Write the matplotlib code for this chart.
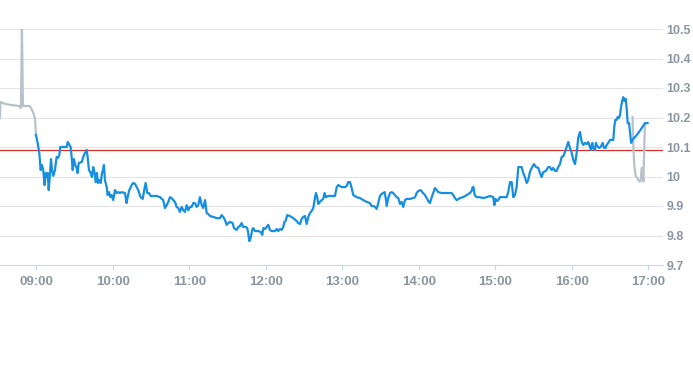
import matplotlib.pyplot as plt
from matplotlib.ticker import FixedLocator, FuncFormatter

# minutes after midnight, price
pre_t = [511.3, 511.8, 515.3, 520.8, 526.3, 527.8, 528.6, 529.4, 534.9, 537.3, 538.8, 539.6]
pre_v = [10.198, 10.253, 10.246, 10.242, 10.239, 10.232, 10.50, 10.239, 10.239, 10.218, 10.198, 10.141]

reg_t = [539.6, 540.9, 542.2, 543.3, 544.3, 545.3, 546.4, 547.2, 548.0, 548.8, 549.6, 550.4,
         551.4, 552.2, 553.2, 554.5, 555.8, 556.9, 557.9, 558.7, 563.7, 564.5, 565.5, 566.8,
         567.6, 568.4, 569.4, 570.4, 571.5, 572.3, 573.1, 575.5, 576.7, 578.0, 579.4, 580.2,
         581.2, 582.5, 583.5, 584.5, 585.6, 586.4, 587.4, 588.2, 589.3, 590.4, 591.4, 592.2,
         592.9, 593.7, 595.1, 595.8, 596.9, 597.9, 599.0, 600.2, 601.6, 602.9, 604.2, 605.5,
         606.8, 609.4, 610.7, 611.5, 612.8, 614.7, 615.9, 617.3, 618.6, 619.8, 621.7, 623.3,
         624.5, 625.6, 626.9, 628.2, 629.6, 634.3, 636.9, 639.4, 640.8, 642.1, 643.4, 644.7,
         646.0, 647.3, 648.6, 649.9, 651.2, 652.5, 653.9, 655.1, 656.5, 657.8, 659.1, 660.4,
         661.7, 663.0, 664.3, 665.6, 666.9, 668.2, 669.6, 670.8, 672.2, 673.5, 674.7, 676.1,
         678.7, 681.3, 683.9, 685.3, 686.5, 687.8, 689.2, 690.4, 691.8, 693.9, 694.9, 697.0,
         698.3, 699.6, 700.9, 702.2, 704.3, 705.3, 706.1, 706.9, 708.0, 709.2, 710.0, 711.4,
         713.9, 715.8, 717.1, 717.9, 719.2, 720.5, 721.8, 723.1, 724.5, 727.0, 728.4, 729.6,
         731.0, 732.3, 733.6, 734.4, 735.4, 736.7, 738.8, 741.4, 744.1, 745.3, 746.7, 748.0,
         749.2, 750.6, 751.9, 753.2, 754.5, 755.8, 757.1, 758.4, 759.2, 760.2, 761.0, 762.3,
         763.7, 764.9, 766.0, 767.0, 768.9, 774.1, 775.5, 776.7, 779.4, 782.0, 783.3, 784.5,
         785.9, 787.2, 788.5, 791.1, 793.7, 796.3, 798.9, 801.5, 802.8, 804.2, 805.5, 806.8,
         808.1, 809.4, 810.7, 812.0, 813.1, 813.9, 814.7, 815.9, 817.3, 818.6, 819.8, 821.2,
         822.5, 823.8, 825.1, 826.4, 827.7, 829.0, 830.4, 832.9, 835.5, 836.9, 838.2, 839.5,
         841.3, 842.6, 844.7, 846.0, 847.3, 848.6, 850.0, 851.2, 852.5, 853.9, 855.1, 857.8,
         865.6, 866.9, 868.2, 869.6, 872.2, 874.7, 877.4, 880.0, 881.3, 882.1, 882.8, 883.7,
         885.2, 887.6, 890.4, 893.1, 895.7, 898.3, 899.1, 900.1, 900.9, 902.2, 903.5, 908.8,
         910.0, 911.4, 912.7, 914.0, 915.3, 916.6, 917.9, 920.5, 921.8, 923.1, 924.5, 925.7,
         927.0, 928.4, 930.2, 931.8, 933.6, 934.9, 936.2, 937.5, 939.6, 941.4, 942.7, 944.1,
         945.3, 946.7, 948.0, 949.2, 950.6, 951.9, 953.2, 954.5, 955.8, 957.1, 958.4, 959.8,
         961.0, 962.4, 963.7, 965.0, 966.3, 967.6, 968.9, 970.2, 971.5, 972.8, 974.1, 974.9,
         975.9, 976.7, 978.1, 978.8, 979.8, 981.4, 982.5, 984.1, 985.1, 986.4, 987.2, 988.5,
         989.8, 992.4, 993.2, 994.0, 995.1, 995.9, 996.7, 997.7, 998.5, 999.5, 1000.3, 1001.1,
         1002.2, 1003.0, 1003.7, 1004.8, 1005.6, 1006.4, 1007.3, 1009.5, 1012.0, 1014.7, 1017.3, 1019.3]
reg_v = [10.141, 10.114, 10.080, 10.022, 10.039, 10.022, 9.971, 10.012, 9.998, 10.012, 9.954, 9.998,
         10.059, 10.022, 10.002, 10.022, 10.066, 10.063, 10.073, 10.100, 10.100, 10.117, 10.110, 10.100,
         10.066, 10.022, 10.059, 10.039, 10.029, 10.012, 10.046, 10.049, 10.066, 10.080, 10.090, 10.063,
         10.022, 10.012, 9.998, 10.032, 10.012, 9.981, 10.012, 9.978, 9.988, 9.978, 10.012, 10.022,
         10.039, 9.988, 9.964, 9.937, 9.947, 9.930, 9.937, 9.920, 9.954, 9.944, 9.947, 9.944,
         9.947, 9.944, 9.910, 9.930, 9.954, 9.971, 9.978, 9.975, 9.964, 9.954, 9.930, 9.924,
         9.954, 9.978, 9.944, 9.944, 9.934, 9.934, 9.930, 9.920, 9.893, 9.903, 9.914, 9.930,
         9.927, 9.920, 9.914, 9.897, 9.893, 9.880, 9.897, 9.886, 9.880, 9.903, 9.886, 9.897,
         9.897, 9.910, 9.910, 9.897, 9.903, 9.930, 9.903, 9.893, 9.920, 9.876, 9.873, 9.866,
         9.863, 9.859, 9.859, 9.869, 9.863, 9.853, 9.836, 9.842, 9.846, 9.842, 9.825, 9.819,
         9.829, 9.832, 9.842, 9.829, 9.829, 9.825, 9.808, 9.781, 9.791, 9.819, 9.825, 9.815,
         9.815, 9.812, 9.802, 9.825, 9.822, 9.829, 9.836, 9.819, 9.815, 9.815, 9.822, 9.815,
         9.822, 9.819, 9.829, 9.846, 9.849, 9.869, 9.866, 9.859, 9.849, 9.842, 9.839, 9.856,
         9.863, 9.866, 9.839, 9.863, 9.876, 9.883, 9.893, 9.927, 9.944, 9.930, 9.907, 9.914,
         9.920, 9.924, 9.944, 9.930, 9.934, 9.934, 9.964, 9.971, 9.964, 9.964, 9.968, 9.981,
         9.981, 9.961, 9.937, 9.930, 9.927, 9.920, 9.914, 9.910, 9.900, 9.900, 9.897, 9.890,
         9.910, 9.934, 9.941, 9.944, 9.947, 9.927, 9.900, 9.927, 9.944, 9.947, 9.944, 9.937,
         9.930, 9.927, 9.907, 9.914, 9.897, 9.920, 9.924, 9.924, 9.927, 9.930, 9.944, 9.951,
         9.954, 9.947, 9.937, 9.927, 9.917, 9.910, 9.930, 9.944, 9.961, 9.954, 9.947, 9.944,
         9.944, 9.937, 9.927, 9.920, 9.927, 9.930, 9.937, 9.944, 9.951, 9.964, 9.964, 9.937,
         9.930, 9.930, 9.927, 9.930, 9.934, 9.930, 9.903, 9.924, 9.917, 9.920, 9.930, 9.930,
         9.947, 9.981, 9.981, 9.930, 9.937, 9.964, 10.032, 10.032, 10.012, 9.998, 9.978, 9.988,
         10.015, 10.029, 10.042, 10.032, 10.029, 10.012, 9.998, 10.015, 10.019, 10.032, 10.032, 10.022,
         10.029, 10.019, 10.019, 10.032, 10.042, 10.066, 10.069, 10.083, 10.100, 10.117, 10.097, 10.080,
         10.056, 10.042, 10.080, 10.134, 10.151, 10.117, 10.107, 10.114, 10.110, 10.117, 10.100, 10.090,
         10.114, 10.097, 10.090, 10.114, 10.103, 10.097, 10.100, 10.114, 10.097, 10.097, 10.107, 10.114,
         10.124, 10.124, 10.168, 10.192, 10.192, 10.202, 10.198, 10.208, 10.236, 10.259, 10.269, 10.256,
         10.263, 10.225, 10.181, 10.181, 10.147, 10.114, 10.124, 10.134, 10.147, 10.164, 10.181, 10.181]

post_t = [1007.5, 1008.1, 1008.9, 1010.0, 1011.2, 1012.8, 1013.9, 1014.7, 1015.5, 1016.0, 1016.8, 1017.3]
post_v = [10.202, 10.107, 10.036, 10.002, 9.995, 9.983, 9.985, 10.029, 10.022, 9.983, 10.114, 10.181]

prev_close = 10.09
y_ticks = [9.7, 9.8, 9.9, 10.0, 10.1, 10.2, 10.3, 10.4, 10.5]
x_ticks = [540, 600, 660, 720, 780, 840, 900, 960, 1020]

label_color = '#8c96a2'
plt.rcParams['font.family'] = ['Liberation Sans Narrow', 'Liberation Sans', 'DejaVu Sans']

fig = plt.figure(figsize=(6.93, 3.65), dpi=100)
ax = fig.add_axes([0, 1 - 265 / 365, 663 / 693, 236 / 365])

ax.axhline(prev_close, color='#d6312b', lw=0.9, zorder=2)
ax.plot(pre_t, pre_v, color='#b9c2ca', lw=1.6, zorder=3, solid_joinstyle='round')
ax.plot(post_t, post_v, color='#b9c2ca', lw=1.6, zorder=3, solid_joinstyle='round')
ax.plot(reg_t, reg_v, color='#178fe0', lw=1.6, zorder=4, solid_joinstyle='round')

ax.set_xlim(511.4, 1031.4)
ax.set_ylim(9.7, 10.5)

ax.yaxis.set_major_locator(FixedLocator(y_ticks))
ax.yaxis.set_major_formatter(FuncFormatter(lambda v, p: f'{v:g}'))
ax.yaxis.tick_right()
ax.xaxis.set_major_locator(FixedLocator(x_ticks))
ax.xaxis.set_major_formatter(FuncFormatter(lambda m, p: f'{int(m) // 60:02d}:{int(m) % 60:02d}'))

ax.grid(axis='y', color='#e4e4e4', lw=0.8)
for s in ['top', 'left', 'right']:
    ax.spines[s].set_visible(False)
ax.spines['bottom'].set_color('#ccd6eb')
ax.spines['bottom'].set_linewidth(0.8)

ax.tick_params(axis='y', length=0, pad=2.5, labelsize=9, labelcolor=label_color)
ax.tick_params(axis='x', length=3.6, width=0.8, color='#ccd6eb', pad=4.5, labelsize=9.5,
               labelcolor=label_color)
for lab in ax.get_xticklabels() + ax.get_yticklabels():
    lab.set_fontweight('bold')

fig.savefig('out.png', dpi=100)
